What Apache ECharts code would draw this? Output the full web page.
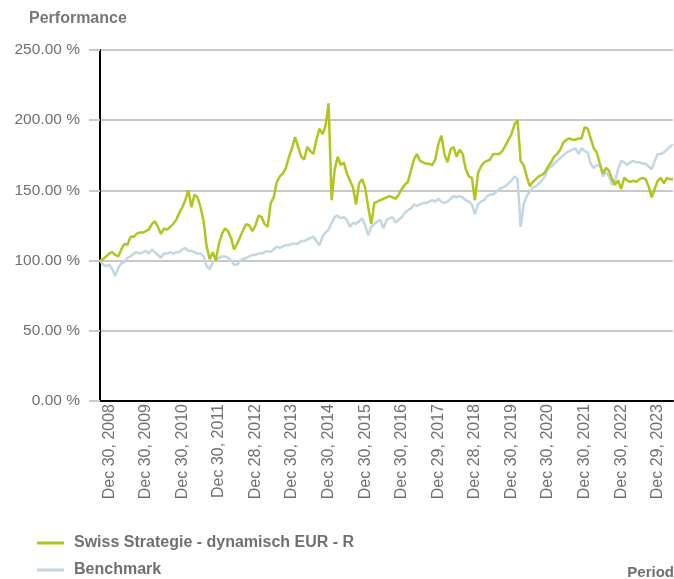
<!DOCTYPE html>
<html>
<head>
<meta charset="utf-8">
<script src="https://cdn.jsdelivr.net/npm/echarts@6/dist/echarts.min.js"></script>
<style>
  html, body { margin: 0; padding: 0; background: #fff; }
  #chart { width: 674px; height: 579px; }
</style>
</head>
<body>
<div id="chart"></div>
<script>
// year-end tick labels (as printed under the axis)
var tickLabels = ['Dec 30, 2008', 'Dec 30, 2009', 'Dec 30, 2010', 'Dec 30, 2011', 'Dec 28, 2012',
  'Dec 30, 2013', 'Dec 30, 2014', 'Dec 30, 2015', 'Dec 30, 2016', 'Dec 29, 2017', 'Dec 28, 2018',
  'Dec 30, 2019', 'Dec 30, 2020', 'Dec 30, 2021', 'Dec 30, 2022', 'Dec 29, 2023'];

// monthly readings, Sep 2008 .. May 2024 (in %)
var fundValues = [
  100, 101, 103, 105, 106, 104, 103, 108, 112, 111, 117, 117, 119, 120, 120, 121, 122, 126, 128, 124,
  119, 123, 122, 124, 126, 129, 134, 138, 143, 150, 138, 147, 145, 138, 128, 110, 101, 106, 100, 112,
  119, 123, 121, 116, 108, 112, 117, 122, 126, 125, 121, 125, 132, 131, 126, 124, 141, 145, 156, 160,
  162, 166, 174, 180, 188, 181, 174, 172, 181, 178, 176, 186, 194, 190, 196, 212, 143, 165, 174, 168,
  170, 162, 157, 152, 140, 155, 158, 152, 138, 126, 141, 142, 143, 144, 145, 146, 145, 144, 147, 151,
  154, 156, 164, 172, 176, 171, 170, 169, 169, 168, 172, 183, 189, 176, 170, 179, 181, 174, 179, 176,
  165, 160, 159, 143, 162, 167, 170, 171, 172, 176, 176, 176, 178, 182, 186, 190, 197, 200, 171, 168,
  160, 153, 156, 158, 160, 161, 163, 167, 170, 174, 176, 179, 184, 186, 187, 186, 186, 187, 187, 195,
  194, 187, 180, 177, 169, 162, 166, 164, 158, 154, 157, 151, 159, 157, 156, 157, 156, 158, 159, 158,
  153, 145, 151, 157, 159, 155, 159, 158, 158
];
var benchValues = [
  100, 97, 96, 97, 94, 89, 95, 98, 99, 102, 103, 105, 106, 105, 106, 107, 105, 108, 106, 104,
  102, 105, 105, 106, 105, 106, 106, 108, 109, 107, 107, 106, 105, 105, 103, 96, 94, 99, 100, 102,
  103, 103, 102, 100, 97, 97, 100, 101, 102, 103, 104, 104, 105, 105, 106, 107, 106, 108, 110, 109,
  110, 111, 111, 112, 112, 112, 114, 114, 115, 116, 117, 114, 111, 117, 120, 122, 127, 131, 132, 130,
  131, 129, 124, 127, 126, 128, 130, 125, 118, 124, 126, 128, 129, 123, 129, 130, 131, 127, 129, 131,
  134, 136, 137, 140, 139, 140, 141, 141, 142, 143, 142, 144, 142, 141, 142, 144, 146, 145, 146, 145,
  143, 142, 140, 133, 140, 142, 143, 146, 147, 147, 149, 151, 152, 153, 155, 157, 160, 158, 124, 140,
  146, 149, 152, 153, 155, 157, 160, 165, 167, 169, 171, 173, 175, 177, 178, 179, 180, 176, 180, 178,
  177, 169, 166, 168, 168, 160, 163, 160, 154, 157, 165, 171, 170, 168, 170, 171, 170, 170, 169, 169,
  167, 165, 171, 176, 176, 177, 179, 181, 183
];

var seriesNames = ['Swiss Strategie - dynamisch EUR - R', 'Benchmark'];
var seriesColors = ['#b2c51f', '#c2d6e3'];

// month categories; December entries carry the printed label
var categories = [];
(function () {
  var y = 2008, m = 9;
  for (var i = 0; i < fundValues.length; i++) {
    if (m === 12) {
      categories.push(tickLabels[y - 2008]);
    } else {
      categories.push(y + '-' + (m < 10 ? '0' + m : m));
    }
    m++;
    if (m > 12) { m = 1; y++; }
  }
})();

var textColor = '#707070';
var chart = echarts.init(document.getElementById('chart'), null, { renderer: 'canvas' });

var legendBase = function (name, top) {
  return {
    orient: 'horizontal',
    left: 37,
    top: top,
    padding: 0,
    itemWidth: 27,
    itemHeight: 3,
    icon: 'rect',
    textStyle: { color: '#707070', fontSize: 16, fontWeight: 'bold', padding: [0, 0, 0, 5] },
    data: [name]
  };
};

var option = {
  animation: false,
  backgroundColor: '#ffffff',
  textStyle: { fontFamily: 'Liberation Sans, Arial, sans-serif' },
  title: {
    text: 'Performance',
    left: 24,
    top: 6,
    textStyle: { color: '#767676', fontSize: 16, fontWeight: 'bold' }
  },
  legend: [legendBase(seriesNames[0], 535), legendBase(seriesNames[1], 562)],
  graphic: [{
    type: 'text',
    right: 0,
    top: 565,
    style: { text: 'Period', fill: '#707070', font: 'bold 15px Liberation Sans, Arial, sans-serif' }
  }],
  grid: { left: 100, right: 1, top: 50, bottom: 178, containLabel: false },
  xAxis: {
    type: 'category',
    data: categories,
    boundaryGap: false,
    axisLine: { show: true, lineStyle: { color: '#000', width: 2 } },
    axisTick: { show: false },
    splitLine: { show: false },
    axisLabel: {
      rotate: 90,
      margin: 3,
      color: textColor,
      fontSize: 16,
      interval: function (index) { return index % 12 === 3; }
    }
  },
  yAxis: {
    type: 'value',
    min: 0,
    max: 250,
    interval: 50,
    axisLine: { show: true, lineStyle: { color: '#000', width: 2 } },
    axisTick: { show: true, length: 11, lineStyle: { color: '#c8c8c8', width: 2 } },
    splitLine: { show: true, lineStyle: { color: '#c8c8c8', width: 2 } },
    axisLabel: {
      margin: 20,
      color: textColor,
      fontSize: 15.5,
      formatter: function (v) { return v.toFixed(2) + ' %'; }
    }
  },
  series: [
    {
      name: seriesNames[0],
      type: 'line',
      data: fundValues,
      showSymbol: false,
      symbol: 'none',
      color: seriesColors[0],
      lineStyle: { width: 2.5, color: seriesColors[0] },
      z: 3
    },
    {
      name: seriesNames[1],
      type: 'line',
      data: benchValues,
      showSymbol: false,
      symbol: 'none',
      color: seriesColors[1],
      lineStyle: { width: 2.5, color: seriesColors[1] },
      z: 2
    }
  ]
};

chart.setOption(option);
</script>
</body>
</html>
